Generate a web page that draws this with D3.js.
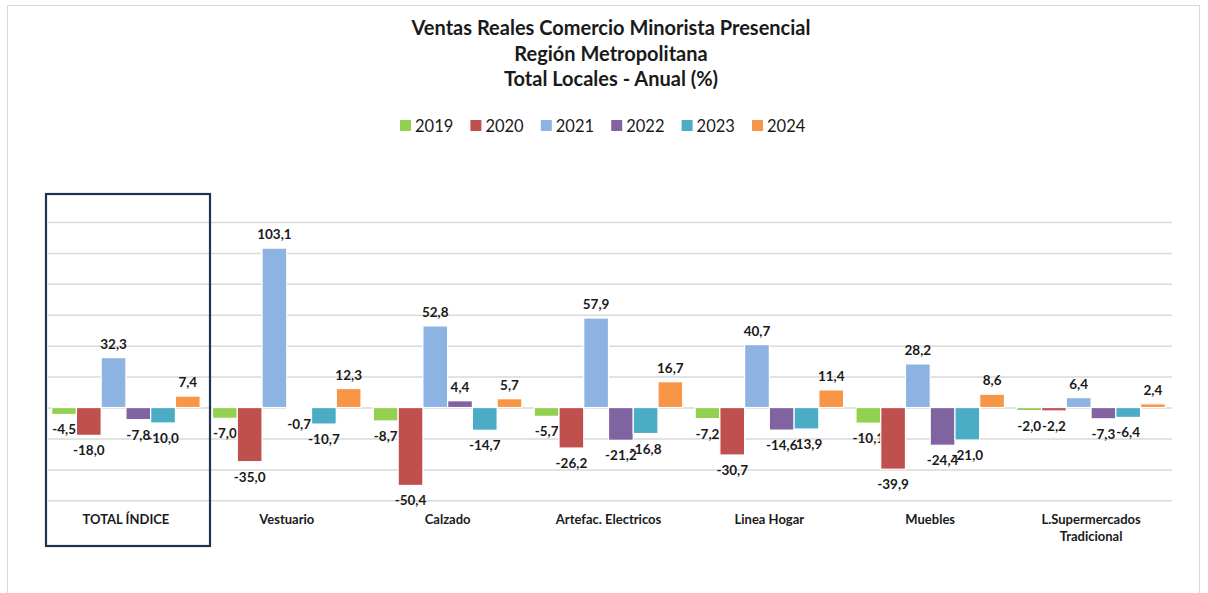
<!DOCTYPE html>
<html>
<head>
<meta charset="utf-8">
<script src="https://cdn.jsdelivr.net/npm/d3@7"></script>
<style>
  body { margin: 0; background: #fff; }
  svg text { font-family: Lato, "Open Sans", sans-serif; fill: #1a1a1a; }
</style>
</head>
<body>
<div id="chart"></div>
<script>
var categories = ["TOTAL ÍNDICE", "Vestuario", "Calzado", "Artefac. Electricos", "Linea Hogar", "Muebles", "L.Supermercados\nTradicional"];
var years = ["2019", "2020", "2021", "2022", "2023", "2024"];
var v2019 = [-4.5, -7.0, -8.7, -5.7, -7.2, -10.1, -2.0];
var v2020 = [-18.0, -35.0, -50.4, -26.2, -30.7, -39.9, -2.2];
var v2021 = [32.3, 103.1, 52.8, 57.9, 40.7, 28.2, 6.4];
var v2022 = [-7.8, -0.7, 4.4, -21.2, -14.6, -24.4, -7.3];
var v2023 = [-10.0, -10.7, -14.7, -16.8, -13.9, -21.0, -6.4];
var v2024 = [7.4, 12.3, 5.7, 16.7, 11.4, 8.6, 2.4];
var colors = ["#92d050", "#c0504d", "#8db3e2", "#8064a2", "#4bacc6", "#f79646"];
var gridTicks = [-60, -40, -20, 0, 20, 40, 60, 80, 100, 120];
var titleLines = ["Ventas Reales Comercio Minorista Presencial", "Región Metropolitana", "Total Locales - Anual (%)"];

var series = [v2019, v2020, v2021, v2022, v2023, v2024];

var W = 1208, H = 593;
var svg = d3.select("#chart").append("svg")
    .attr("width", W)
    .attr("height", H);

// chart frame
svg.append("rect")
    .attr("x", 7.5).attr("y", 5.5)
    .attr("width", 1192).attr("height", 600)
    .attr("fill", "none")
    .attr("stroke", "#d9d9d9");

// title
svg.append("g").selectAll("text")
  .data(titleLines)
  .enter().append("text")
    .attr("x", 611)
    .attr("y", function(d, i) { return 35 + i * 25.5; })
    .attr("text-anchor", "middle")
    .attr("font-size", 20)
    .attr("font-weight", "bold")
    .text(function(d) { return d; });

// legend
var legend = svg.append("g").selectAll("g")
  .data(years)
  .enter().append("g")
    .attr("transform", function(d, i) { return "translate(" + (400 + i * 70.4) + ",120)"; });
legend.append("rect")
    .attr("width", 11).attr("height", 11)
    .attr("fill", function(d, i) { return colors[i]; });
legend.append("text")
    .attr("x", 15).attr("y", 11.5)
    .attr("font-size", 16.5)
    .text(function(d) { return d; });

var x0 = d3.scaleBand()
  .domain(categories)
  .range([45.5, 1171.5])
  .padding(0);

var x1 = d3.scaleBand()
  .domain(years)
  .range([0, x0.bandwidth()])
  .paddingInner(0)
  .paddingOuter(0.25);

var y = d3.scaleLinear()
  .domain([-60, 120])
  .range([500.3, 222]);

// gridlines
svg.append("g")
    .call(d3.axisLeft(y).tickValues(gridTicks).tickSize(-(1172 - 48)).tickFormat(""))
    .attr("transform", "translate(48,0)")
    .call(function(g) { g.select(".domain").remove(); })
    .selectAll("line")
      .attr("stroke", "#d9d9d9")
      .attr("stroke-width", 1.5);

// bars
var groups = svg.append("g").selectAll("g")
  .data(categories)
  .enter().append("g")
    .attr("transform", function(d) { return "translate(" + x0(d) + ",0)"; });

var cells = groups.selectAll("g")
  .data(function(d, ci) { return years.map(function(yr, si) { return {year: yr, si: si, v: series[si][ci]}; }); })
  .enter().append("g");

cells.append("rect")
    .attr("x", function(d) { return x1(d.year); })
    .attr("y", function(d) { return y(Math.max(0, d.v)); })
    .attr("width", x1.bandwidth())
    .attr("height", function(d) { return Math.abs(y(d.v) - y(0)); })
    .attr("fill", function(d) { return colors[d.si]; })
    .attr("stroke", "#fff")
    .attr("stroke-width", 1.2);

cells.append("text")
    .attr("x", function(d) { return x1(d.year) + x1.bandwidth() / 2; })
    .attr("y", function(d) { return d.v >= 0 ? y(d.v) - 9 : y(d.v) + 20; })
    .attr("text-anchor", "middle")
    .attr("font-size", 13.5)
    .attr("font-weight", "bold")
    .text(function(d) { return d3.format(".1f")(d.v).replace(".", ",").replace("−", "-"); });

// category labels
var catLabels = svg.append("g").selectAll("text")
  .data(categories)
  .enter().append("text")
    .attr("x", function(d) { return x0(d) + x0.bandwidth() / 2; })
    .attr("y", 524)
    .attr("text-anchor", "middle")
    .attr("font-size", 13)
    .attr("font-weight", "bold");
catLabels.selectAll("tspan")
  .data(function(d) { return d.split("\n"); })
  .enter().append("tspan")
    .attr("x", function() { var p = this.parentNode; return d3.select(p).attr("x"); })
    .attr("dy", function(d, i) { return i === 0 ? 0 : 17; })
    .text(function(d) { return d; });

// highlight box around total
svg.append("rect")
    .attr("x", 46)
    .attr("y", 194)
    .attr("width", 164)
    .attr("height", 352)
    .attr("fill", "none")
    .attr("stroke", "#1f3550")
    .attr("stroke-width", 2.2);
</script>
</body>
</html>
